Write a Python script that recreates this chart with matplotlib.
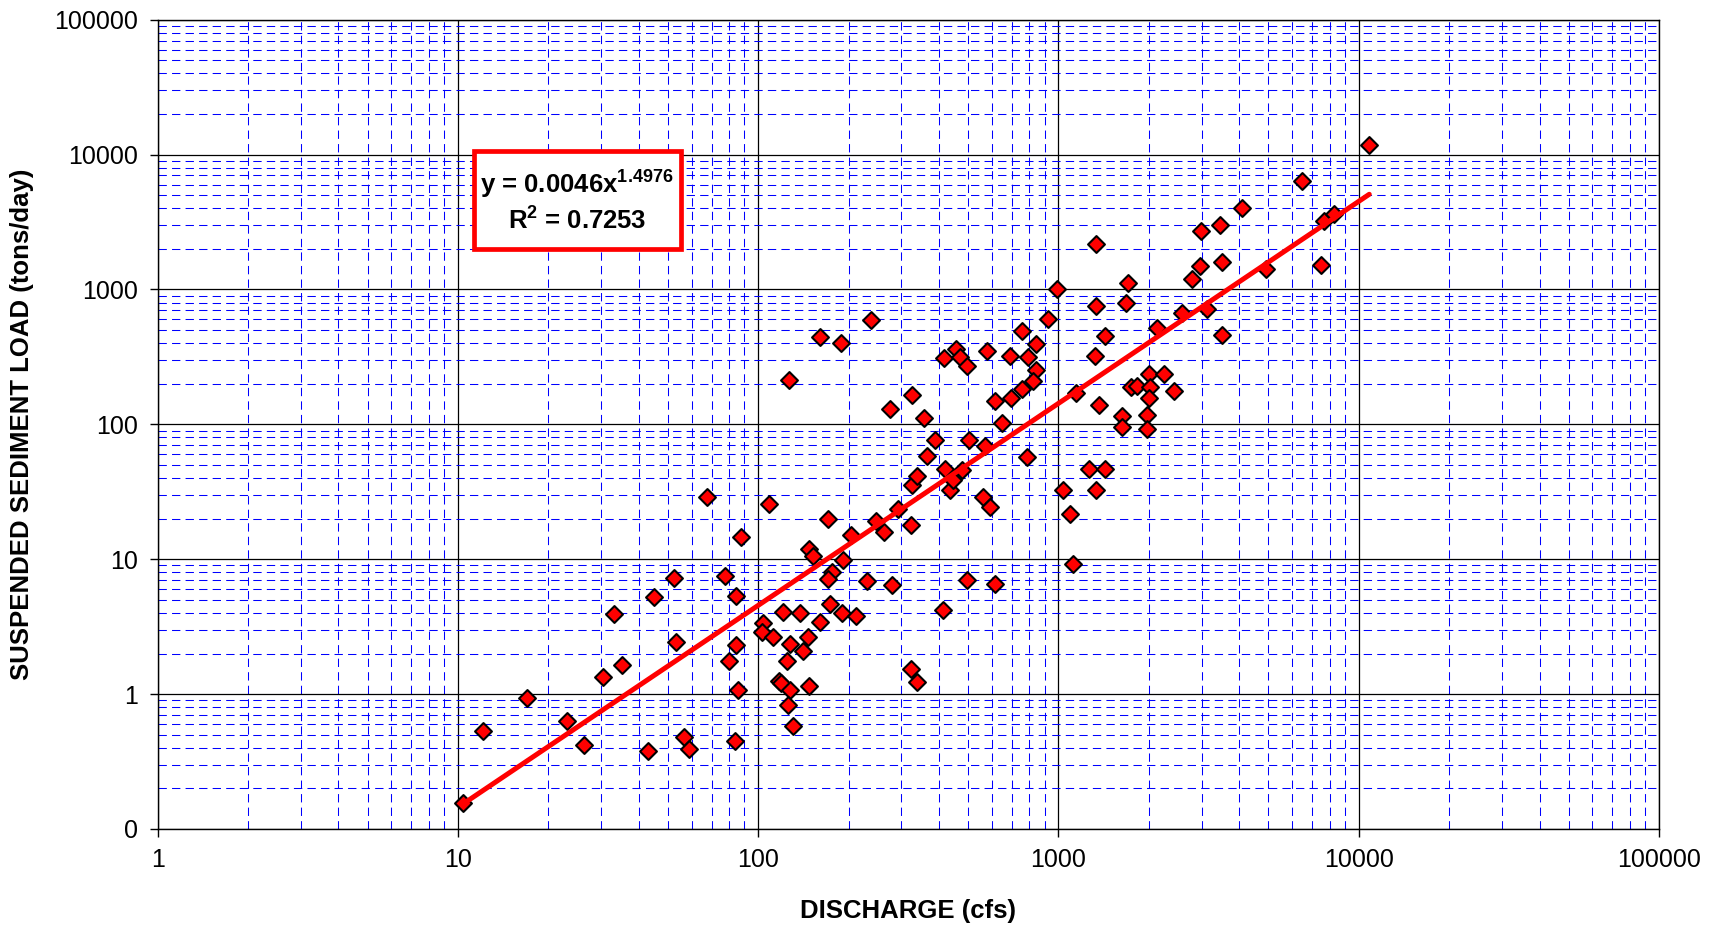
import numpy as np
import matplotlib
matplotlib.use('Agg')
import matplotlib.pyplot as plt
from matplotlib.ticker import LogLocator, FuncFormatter, NullFormatter
from matplotlib.patches import Rectangle

plt.rcParams['font.family'] = ['Liberation Sans', 'DejaVu Sans']
plt.rcParams['mathtext.fontset'] = 'custom'
plt.rcParams['mathtext.rm'] = 'Liberation Sans:bold'
plt.rcParams['mathtext.it'] = 'Liberation Sans:bold'
plt.rcParams['mathtext.bf'] = 'Liberation Sans:bold'

# discharge (cfs) and suspended sediment load (tons/day)
discharge = [
    10.4, 12.1, 17.0, 23.0, 26.2, 30.3, 33.0, 35.3, 43.0, 45.1,
    52.4, 53.3, 56.6, 58.9, 67.6, 77.6, 79.7, 84.1, 84.6, 83.4,
    85.6, 87.3, 103.5, 103, 112, 121, 138, 160, 128, 147,
    141, 124.5, 117, 119, 128, 148, 126, 131, 176, 171,
    173, 190, 211, 230, 280, 414, 323, 339, 497, 616,
    191, 109, 171, 203, 148, 152, 247, 262, 291, 323,
    326, 338, 364, 420, 477, 434, 561, 591, 388, 502,
    569, 783, 445, 127, 161, 188, 237, 274, 326, 356,
    416, 454, 471, 497, 577, 690, 758, 792, 841, 844,
    825, 754, 696, 614, 647, 925, 990, 10840, 6470, 4090,
    3459, 2978, 7690, 8260, 7460, 4920, 3515, 2958, 2794, 1334,
    1709, 1334, 1678, 2570, 3127, 2124, 3507, 1429, 1324, 1145,
    1365, 2000, 2240, 1740, 1825, 2013, 2422, 2000, 1623, 1964,
    1623, 1964, 1039, 1259, 1429, 1334, 1094, 1117,
]
load = [
    0.156, 0.53, 0.93, 0.63, 0.42, 1.33, 3.94, 1.65, 0.38, 5.26,
    7.3, 2.43, 0.48, 0.39, 28.8, 7.57, 1.77, 2.32, 5.35, 0.45,
    1.08, 14.6, 3.39, 2.91, 2.65, 4.05, 4.0, 3.44, 2.35, 2.63,
    2.1, 1.77, 1.26, 1.2, 1.07, 1.15, 0.83, 0.58, 8.1, 7.1,
    4.67, 3.98, 3.8, 6.9, 6.4, 4.2, 1.54, 1.23, 7.0, 6.6,
    9.9, 25.6, 19.9, 15.1, 11.9, 10.5, 19.2, 16.0, 23.6, 17.8,
    35.6, 41.5, 58, 46.5, 46, 32.5, 29.1, 24.3, 77, 77,
    69, 57.6, 39, 213, 441, 403, 589, 131, 165, 112,
    312, 361, 317, 272, 350, 322, 495, 317, 397, 251,
    210, 182, 158, 148, 102, 600, 1000, 11800, 6410, 4030,
    3030, 2735, 3245, 3630, 1507, 1423, 1591, 1488, 1199, 2155,
    1115, 760, 796, 671, 719, 518, 461, 451, 321, 171,
    138, 237, 237, 190, 193, 188, 178, 158, 116, 118,
    95, 92, 32.5, 46.5, 47, 32.5, 21.8, 9.2,
]

# power trendline shown on the chart
fit_coef = 0.0046
fit_exp = 1.4976
fit_r2 = 0.7253

x_ticks = [1, 10, 100, 1000, 10000, 100000]
y_ticks = [0.1, 1, 10, 100, 1000, 10000, 100000]

fig = plt.figure(figsize=(17.17, 9.27), dpi=100)
ax = fig.add_axes([0.09185, 0.10572, 0.87437, 0.87303])
ax.set_xscale('log')
ax.set_yscale('log')
ax.set_xlim(1, 100000)
ax.set_ylim(0.1, 100000)

ax.set_xticks(x_ticks)
ax.set_yticks(y_ticks)
ax.xaxis.set_minor_locator(LogLocator(base=10, subs=range(2, 10), numticks=20))
ax.yaxis.set_minor_locator(LogLocator(base=10, subs=range(2, 10), numticks=20))
ax.xaxis.set_minor_formatter(NullFormatter())
ax.yaxis.set_minor_formatter(NullFormatter())
ax.xaxis.set_major_formatter(FuncFormatter(lambda v, p: '%d' % v))
ax.yaxis.set_major_formatter(FuncFormatter(lambda v, p: '%d' % v))
ax.tick_params(which='major', direction='out', length=6, width=1, labelsize=18, pad=8)
ax.tick_params(which='minor', length=0)

ax.set_axisbelow(True)
ax.grid(which='minor', color='#0000ff', linestyle=(0, (8, 5)), linewidth=0.75)
ax.grid(which='major', color='black', linewidth=0.9)
for s in ax.spines.values():
    s.set_linewidth(1.0)
    s.set_color('black')

ax.scatter(discharge, load, marker='D', s=74, c='#ff0000',
           edgecolors='black', linewidths=1.5, zorder=3)

xf = np.logspace(np.log10(min(discharge)), np.log10(max(discharge)), 50)
ax.plot(xf, fit_coef * xf ** fit_exp, color='#ff0000', linewidth=3.6, zorder=4,
        solid_capstyle='round')

# equation box
ax.add_patch(Rectangle((0.2105, 0.7170), 0.1378, 0.1212, transform=ax.transAxes,
                       facecolor='white', edgecolor='#ff0000', linewidth=3.4, zorder=5))
ax.text(0.2793, 0.7855, 'y = %.4fx$^{%.4f}$' % (fit_coef, fit_exp), transform=ax.transAxes,
        ha='center', va='baseline', fontsize=18.5, fontweight='bold', zorder=6)
ax.text(0.2793, 0.7401, 'R$^{2}$ = %.4f' % fit_r2, transform=ax.transAxes,
        ha='center', va='baseline', fontsize=18.5, fontweight='bold', zorder=6)

fig.text(908 / 1717, 1 - 911 / 927, 'DISCHARGE (cfs)', ha='center', va='center',
         fontsize=18.5, fontweight='bold')
fig.text(22 / 1717, 1 - 424 / 927, 'SUSPENDED SEDIMENT LOAD (tons/day)', ha='center',
         va='center', rotation=90, fontsize=18.5, fontweight='bold')

fig.savefig('out.png', dpi=100)
